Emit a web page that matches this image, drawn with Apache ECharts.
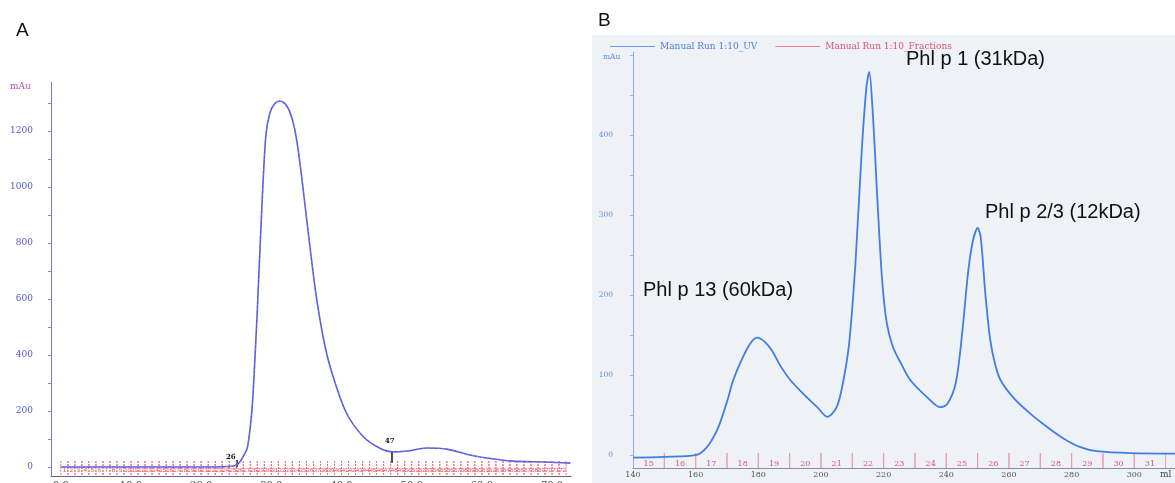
<!DOCTYPE html>
<html>
<head>
<meta charset="utf-8">
<script src="https://cdn.jsdelivr.net/npm/echarts@6/dist/echarts.min.js"></script>
<style>
html,body{margin:0;padding:0;background:#fff;}
#chart{width:1175px;height:483px;}
</style>
</head>
<body>
<div id="chart"></div>
<script>
// ---------- Panel A data (elution volume in ml, absorbance mAu) ----------
const A_ml  = [0, 10, 20, 24, 25.0, 25.5, 26.0, 26.6, 27.2, 27.5, 28.0, 28.5, 29.2, 29.8, 30.5, 31.2, 32.0, 32.6, 33.3, 34.0, 35.2, 36.4, 37.7, 39.0, 40.7, 43.0, 45.4, 47.3, 49.3, 52.1, 55.0, 57.8, 60.7, 64.4, 69.2, 72.6];
const A_mau = [0, 0, 0, 2, 6, 18, 38, 71, 193, 311, 560, 846, 1180, 1265, 1298, 1307, 1296, 1270, 1210, 1100, 850, 610, 425, 307, 193, 111, 68, 54, 57, 68, 64, 46, 32, 21, 18, 14];
const A_xLabels = [0, 10, 20, 30, 40, 50, 60, 70];
const A_yLabels = [0, 200, 400, 600, 800, 1000, 1200];
const A_yTicks  = [0, 100, 200, 300, 400, 500, 600, 700, 800, 900, 1000, 1100, 1200, 1300];
const A_fracEdges  = [0,1,2,3,4,5,6,7,8,9,10,11,12,13,14,15,16,17,18,19,20,21,22,23,24,25,26,27,28,29,30,31,32,33,34,35,36,37,38,39,40,41,42,43,44,45,46,47,48,49,50,51,52,53,54,55,56,57,58,59,60,61,62,63,64,65,66,67,68,69,70,71,72];
const A_fracLabels = ['1','2','3','4','5','6','7','8','9','10','11','12','13','14','15','16','17','18','19','20','21','22','23','24','25','26','27','28','29','30','31','32','33','34','35','36','37','38','39','40','41','42','43','44','45','46','47','48','49','50','51','52','53','54','55','56','57','58','59','60','61','62','63','64','65','66','67','68','69','70','71','72'];

// ---------- Panel B data ----------
const B_ml  = [140, 150, 160, 163.6, 166.8, 168.8, 170.4, 172, 175, 177.5, 179.6, 182, 184.5, 187, 190.2, 194.3, 198.8, 202, 205, 207, 209, 211, 213, 214.5, 215.4, 216.5, 218, 219.5, 221, 223, 225.5, 228.5, 234, 238, 240.3, 243, 245, 247, 248.5, 250, 251, 252.5, 254, 255.5, 257.3, 261.4, 266.8, 272.3, 277.4, 282.8, 288, 298.8, 313];
const B_mau = [-3, -2, 0, 10, 31, 52, 72, 94, 122, 140, 147, 142, 130, 112, 94, 77, 60, 48, 60, 90, 140, 240, 380, 460, 479, 430, 320, 220, 165, 135, 115, 94, 72, 60, 64, 90, 150, 230, 268, 284, 272, 200, 145, 115, 94, 72, 52, 35, 21, 10, 5, 2.5, 2];
const B_xLabels = [140, 160, 180, 200, 220, 240, 260, 280, 300];
const B_yLabels = [0, 100, 200, 300, 400];
const B_yTicks  = [0, 50, 100, 150, 200, 250, 300, 350, 400, 450, 500];
const B_fracEdges  = [140, 150, 160, 170, 180, 190, 200, 210, 220, 230, 240, 250, 260, 270, 280, 290, 300, 310];
const B_fracLabels = ['15','16','17','18','19','20','21','22','23','24','25','26','27','28','29','30','31'];
const B_peakLabels = ['Phl p 1 (31kDa)', 'Phl p 2/3 (12kDa)', 'Phl p 13 (60kDa)'];

function zip(a, b) { return a.map((v, i) => [v, b[i]]); }
function pairs(edges) { const r = []; for (let i = 0; i < edges.length - 1; i++) r.push([edges[i], edges[i + 1]]); return r; }

function fractionRenderer(labels, o) {
  return function (params, api) {
    const cs = params.coordSys;
    const xs = api.coord([api.value(0), 0])[0];
    const xe = api.coord([api.value(1), 0])[0];
    const bottom = cs.y + cs.height;
    const children = [];
    const tick = (x) => ({type: 'line', shape: {x1: x, y1: bottom - o.len, x2: x, y2: bottom},
      style: {stroke: o.color, lineWidth: 1, lineDash: o.dash || null}});
    if (params.dataIndex > 0 || o.firstStart) children.push(tick(xs));
    children.push(tick(xe));
    children.push({type: 'text', x: (xs + xe) / 2, y: bottom - o.labelOffset,
      style: {text: labels[params.dataIndex], fill: o.textColor, font: o.font, align: 'center', verticalAlign: 'middle'}});
    return {type: 'group', children: children};
  };
}

const chart = echarts.init(document.getElementById('chart'), null, {renderer: 'canvas'});

const serif = '"DejaVu Serif", "Liberation Serif", serif';
const sans = '"Liberation Sans", Arial, Helvetica, sans-serif';

const option = {
  backgroundColor: '#ffffff',
  animation: false,
  legend: {
    left: 605, top: 37,
    itemWidth: 45, itemHeight: 1, itemGap: 18,
    textStyle: {fontFamily: serif, fontSize: 9},
    data: [
      {name: 'Manual Run 1:10_UV', icon: 'rect', itemStyle: {color: '#6c9be6'}, textStyle: {color: '#4a7fd8'}},
      {name: 'Manual Run 1:10_Fractions', icon: 'rect', itemStyle: {color: '#ee7f98'}, textStyle: {color: '#e0507a'}}
    ],
    selectedMode: false
  },
  graphic: [
    {type: 'rect', z: -10, shape: {x: 592, y: 35, width: 583, height: 448}, style: {fill: '#eef1f5'}},
    {type: 'text', left: 16, top: 21, style: {text: 'A', font: '19px ' + sans, fill: '#111'}},
    {type: 'text', left: 598, top: 11, style: {text: 'B', font: '19px ' + sans, fill: '#111'}},
    {type: 'text', x: 10, y: 87, style: {text: 'mAu', font: '9px ' + serif, fill: '#b055b8', verticalAlign: 'middle'}},
    {type: 'text', x: 603, y: 57, style: {text: 'mAu', font: '7.5px ' + serif, fill: '#5b8fe0', verticalAlign: 'middle'}},
    {type: 'text', x: 1160, y: 475, style: {text: 'ml', font: '9px ' + serif, fill: '#444', verticalAlign: 'middle'}},
    {type: 'text', x: 906, y: 59, style: {text: B_peakLabels[0], font: '20px ' + sans, fill: '#111', verticalAlign: 'middle'}},
    {type: 'text', x: 985, y: 212, style: {text: B_peakLabels[1], font: '20px ' + sans, fill: '#111', verticalAlign: 'middle'}},
    {type: 'text', x: 643, y: 290, style: {text: B_peakLabels[2], font: '20px ' + sans, fill: '#111', verticalAlign: 'middle'}},
    {type: 'text', x: 226, y: 457, style: {text: '26', font: 'bold 7px ' + serif, fill: '#111', verticalAlign: 'middle'}},
    {type: 'line', shape: {x1: 237, y1: 460, x2: 237, y2: 467}, style: {stroke: '#111', lineWidth: 1.5}},
    {type: 'text', x: 385, y: 441, style: {text: '47', font: 'bold 7px ' + serif, fill: '#111', verticalAlign: 'middle'}},
    {type: 'line', shape: {x1: 392, y1: 452, x2: 392, y2: 463}, style: {stroke: '#111', lineWidth: 1.5}}
  ],
  grid: [
    {left: 51, top: 82, width: 520, height: 394, containLabel: false, outerBoundsMode: 'none'},
    {left: 633, top: 52, width: 542, height: 416, containLabel: false, outerBoundsMode: 'none'}
  ],
  xAxis: [
    {gridIndex: 0, type: 'value', min: -1.4, max: 72.7,
      axisLine: {onZero: false, lineStyle: {color: '#666', width: 1}},
      axisTick: {show: false},
      splitLine: {show: false},
      axisLabel: {customValues: A_xLabels, formatter: v => Number(v).toFixed(1), margin: 4, color: '#444', fontFamily: serif, fontSize: 10}},
    {gridIndex: 1, type: 'value', min: 140, max: 313,
      axisLine: {onZero: false, lineStyle: {color: '#8a8f99', width: 1}},
      axisTick: {show: false},
      splitLine: {show: false},
      axisLabel: {customValues: B_xLabels, margin: 3, color: '#555', fontFamily: serif, fontSize: 8}}
  ],
  yAxis: [
    {gridIndex: 0, type: 'value', min: -32, max: 1375,
      axisLine: {show: true, onZero: false, lineStyle: {color: '#7a78e0', width: 1}},
      axisTick: {show: true, customValues: A_yTicks, length: 3, lineStyle: {color: '#8a88e6'}},
      splitLine: {show: false},
      axisLabel: {customValues: A_yLabels, formatter: v => String(v), margin: 18, color: '#5454d6', fontFamily: serif, fontSize: 9}},
    {gridIndex: 1, type: 'value', min: -16, max: 504,
      axisLine: {show: true, onZero: false, lineStyle: {color: '#8ab0ea', width: 1}},
      axisTick: {show: true, customValues: B_yTicks, length: 3, lineStyle: {color: '#9bbbee'}},
      splitLine: {show: false},
      axisLabel: {customValues: B_yLabels, formatter: v => String(v), margin: 20, color: '#5b8fe0', fontFamily: serif, fontSize: 7.5}}
  ],
  series: [
    {type: 'custom', name: 'A fractions', xAxisIndex: 0, yAxisIndex: 0, silent: true,
      data: pairs(A_fracEdges),
      renderItem: fractionRenderer(A_fracLabels, {len: 15, color: '#f2707e', dash: [2, 1], labelOffset: 6, textColor: '#e8485a', font: '6px ' + sans, firstStart: true})},
    {type: 'line', name: 'A UV', xAxisIndex: 0, yAxisIndex: 0, data: zip(A_ml, A_mau),
      showSymbol: false, smooth: 0.3, lineStyle: {color: '#4f5fe0', width: 1.6}, z: 3},
    {type: 'line', name: 'A trace', xAxisIndex: 0, yAxisIndex: 0, data: zip(A_ml, A_mau),
      showSymbol: false, smooth: 0.3, lineStyle: {color: '#e070c8', width: 1, type: [1, 4]}, z: 4},
    {type: 'custom', name: 'Manual Run 1:10_Fractions', xAxisIndex: 1, yAxisIndex: 1, silent: true,
      itemStyle: {color: '#ee7f98'},
      data: pairs(B_fracEdges),
      renderItem: fractionRenderer(B_fracLabels, {len: 15, color: '#ee9aae', labelOffset: 4, textColor: '#e0507a', font: '8px ' + serif})},
    {type: 'line', name: 'Manual Run 1:10_UV', xAxisIndex: 1, yAxisIndex: 1, data: zip(B_ml, B_mau),
      showSymbol: false, smooth: 0.3, lineStyle: {color: '#3f7fe0', width: 1.8}, itemStyle: {color: '#6c9be6'}, z: 3}
  ]
};
chart.setOption(option);
</script>
</body>
</html>
